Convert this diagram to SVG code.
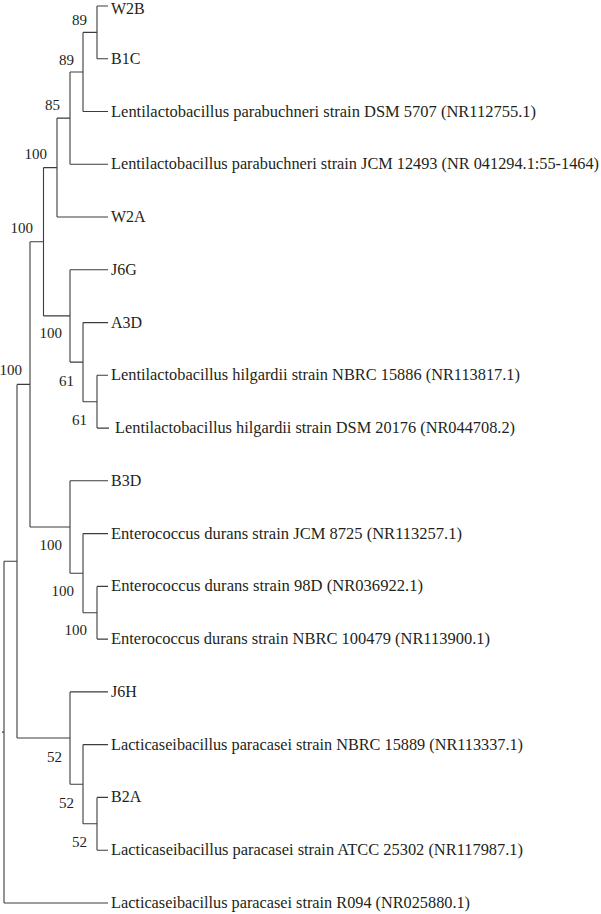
<svg xmlns="http://www.w3.org/2000/svg" width="601" height="914" viewBox="0 0 601 914">
<style>
.ln{fill:none;stroke:#3c3c3c;stroke-width:1.1}
.lf{font-family:"Liberation Serif","Times New Roman",serif;font-size:16px;fill:#231f20}
.bs{font-family:"Liberation Serif","Times New Roman",serif;font-size:15px;fill:#231f20;text-anchor:end}
</style>
<rect width="601" height="914" fill="#ffffff"/>
<g id="connectors" class="ln">
<path d="M97,6H108M97,58.8H108M97,6V58.8"/>
<path d="M83,32.4H97M83,111.5H108M83,32.4V111.5"/>
<path d="M70,72H83M70,164.3H108M70,72V164.3"/>
<path d="M57,118.1H70M57,217H108M57,118.1V217"/>
<path d="M97,375.3H108M97,428.1H109M97,375.3V428.1"/>
<path d="M83,322.6H108M83,401.7H97M83,322.6V401.7"/>
<path d="M70,269.8H108M70,362.1H83M70,269.8V362.1"/>
<path d="M43.5,167.6H57M43.5,315.9H70M43.5,167.6V315.9"/>
<path d="M97,586.4H108M97,639.1H108M97,586.4V639.1"/>
<path d="M83,533.6H108M83,612.8H97M83,533.6V612.8"/>
<path d="M70,480.8H108M70,573.2H83M70,480.8V573.2"/>
<path d="M30,241.8H43.5M30,527H70M30,241.8V527"/>
<path d="M97,797.4H108M97,850.2H108M97,797.4V850.2"/>
<path d="M83,744.6H108M83,823.8H97M83,744.6V823.8"/>
<path d="M70,691.9H108M70,784.2H83M70,691.9V784.2"/>
<path d="M17,384.4H30M17,738H70M17,384.4V738"/>
<path d="M4,561.2H17M4,903H108M4,561.2V903"/>
<path d="M2,732.1H4"/>
</g>
<g id="leaf-W2B"><text class="lf" x="111" y="14">W2B</text></g>
<g id="leaf-B1C"><text class="lf" x="111" y="64">B1C</text></g>
<g id="leaf-DSM5707"><text class="lf" x="111" y="117" textLength="425" lengthAdjust="spacingAndGlyphs">Lentilactobacillus parabuchneri strain DSM 5707 (NR112755.1)</text></g>
<g id="leaf-JCM12493"><text class="lf" x="111" y="169" textLength="488" lengthAdjust="spacingAndGlyphs">Lentilactobacillus parabuchneri strain JCM 12493 (NR 041294.1:55-1464)</text></g>
<g id="leaf-W2A"><text class="lf" x="111" y="222">W2A</text></g>
<g id="leaf-J6G"><text class="lf" x="111" y="275">J6G</text></g>
<g id="leaf-A3D"><text class="lf" x="111" y="328">A3D</text></g>
<g id="leaf-NBRC15886"><text class="lf" x="111" y="380" textLength="409" lengthAdjust="spacingAndGlyphs">Lentilactobacillus hilgardii strain NBRC 15886 (NR113817.1)</text></g>
<g id="leaf-DSM20176"><text class="lf" x="115" y="433" textLength="400" lengthAdjust="spacingAndGlyphs">Lentilactobacillus hilgardii strain DSM 20176 (NR044708.2)</text></g>
<g id="leaf-B3D"><text class="lf" x="111" y="486">B3D</text></g>
<g id="leaf-JCM8725"><text class="lf" x="111" y="539" textLength="351" lengthAdjust="spacingAndGlyphs">Enterococcus durans strain JCM 8725 (NR113257.1)</text></g>
<g id="leaf-98D"><text class="lf" x="111" y="591" textLength="312" lengthAdjust="spacingAndGlyphs">Enterococcus durans strain 98D (NR036922.1)</text></g>
<g id="leaf-NBRC100479"><text class="lf" x="111" y="644" textLength="379" lengthAdjust="spacingAndGlyphs">Enterococcus durans strain NBRC 100479 (NR113900.1)</text></g>
<g id="leaf-J6H"><text class="lf" x="111" y="697">J6H</text></g>
<g id="leaf-NBRC15889"><text class="lf" x="111" y="750" textLength="412" lengthAdjust="spacingAndGlyphs">Lacticaseibacillus paracasei strain NBRC 15889 (NR113337.1)</text></g>
<g id="leaf-B2A"><text class="lf" x="111" y="802">B2A</text></g>
<g id="leaf-ATCC25302"><text class="lf" x="111" y="855" textLength="412" lengthAdjust="spacingAndGlyphs">Lacticaseibacillus paracasei strain ATCC 25302 (NR117987.1)</text></g>
<g id="leaf-R094"><text class="lf" x="111" y="908" textLength="359" lengthAdjust="spacingAndGlyphs">Lacticaseibacillus paracasei strain R094 (NR025880.1)</text></g>
<g id="node-n1"><text class="bs" x="87" y="25">89</text></g>
<g id="node-n2"><text class="bs" x="74" y="65">89</text></g>
<g id="node-n3"><text class="bs" x="60" y="110">85</text></g>
<g id="node-n4"><text class="bs" x="47" y="159">100</text></g>
<g id="node-n5"><text class="bs" x="33" y="233">100</text></g>
<g id="node-n6"><text class="bs" x="62" y="338">100</text></g>
<g id="node-n7"><text class="bs" x="74" y="386">61</text></g>
<g id="node-n8"><text class="bs" x="87" y="425">61</text></g>
<g id="node-n15"><text class="bs" x="22" y="375">100</text></g>
<g id="node-n9"><text class="bs" x="62" y="550">100</text></g>
<g id="node-n10"><text class="bs" x="74" y="596">100</text></g>
<g id="node-n11"><text class="bs" x="87" y="635">100</text></g>
<g id="node-n12"><text class="bs" x="62" y="762">52</text></g>
<g id="node-n13"><text class="bs" x="74" y="808">52</text></g>
<g id="node-n14"><text class="bs" x="87" y="847">52</text></g>
</svg>
